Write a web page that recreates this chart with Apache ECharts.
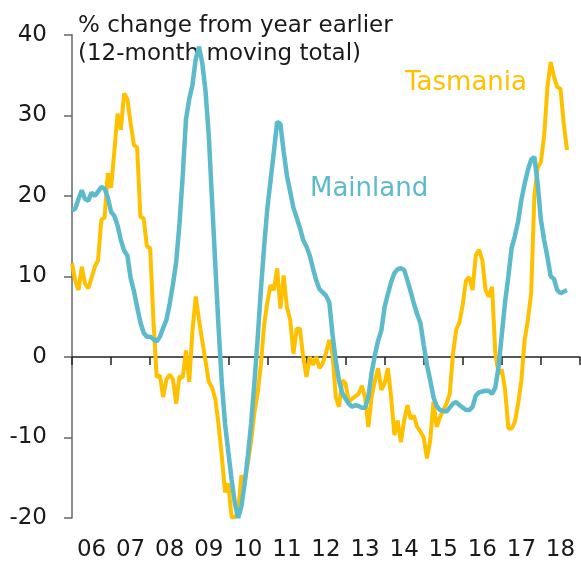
<!DOCTYPE html>
<html>
<head>
<meta charset="utf-8">
<script src="https://cdn.jsdelivr.net/npm/echarts@6/dist/echarts.min.js"></script>
<style>
html, body { margin: 0; padding: 0; background: #fff; }
#chart { width: 581px; height: 562px; }
</style>
</head>
<body>
<div id="chart"></div>
<script>
// year labels, one per 12 months starting Jan 2006
var years = ['06', '07', '08', '09', '10', '11', '12', '13', '14', '15', '16', '17', '18'];

// % change from year earlier, monthly from Jan 2006
var tasmania = [
    11.6, 9.5, 8.3, 11.2, 9.1, 8.5, 9.8, 11.2, 12.0, 17.0,
    17.3, 22.8, 21.0, 25.5, 30.2, 28.2, 32.7, 32.0, 29.0, 26.3,
    26.0, 17.4, 17.2, 13.7, 13.5, 4.6, -2.5, -2.3, -5.0, -2.8,
    -2.2, -2.8, -5.8, -2.4, -2.6, 0.8, -3.1, 3.3, 7.5, 4.6,
    2.0, -0.5, -3.1, -3.8, -5.2, -8.4, -12.3, -16.8, -15.7, -19.9,
    -19.9, -19.3, -14.7, -15.6, -13.2, -10.5, -7.0, -4.5, -1.0, 4.0,
    6.8, 8.9, 8.3, 11.0, 6.0, 10.1, 6.2, 4.6, 0.4, 3.5,
    3.5, 0.0, -2.5, 0.0, -1.0, 0.0, -1.4, -0.8, 0.5, 2.1,
    0.4, -5.0, -6.2, -2.9, -3.3, -5.6, -5.2, -4.9, -4.6, -3.6,
    -5.0, -8.7, -5.0, -3.0, -1.4, -4.1, -3.3, -1.4, -5.0, -9.7,
    -7.9, -10.6, -7.9, -6.0, -7.7, -7.3, -8.7, -9.3, -10.0, -12.6,
    -10.4, -5.6, -8.7, -7.5, -6.6, -5.8, -4.6, 0.4, 3.4, 4.3,
    6.5, 9.5, 9.9, 8.3, 12.6, 13.3, 12.0, 8.3, 7.5, 8.7,
    0.4, -2.1, -1.6, -4.1, -8.9, -8.9, -8.1, -5.8, -2.9, 2.1,
    4.6, 7.9, 20.0, 23.5, 24.2, 27.5, 33.5, 36.6, 34.8, 33.5,
    33.3, 29.0, 25.7
];

var mainland = [
    18.2, 18.4, 19.6, 20.7, 19.6, 19.4, 20.4, 20.0, 20.5, 21.1,
    20.9, 19.8, 18.0, 17.5, 16.3, 14.5, 13.2, 12.6, 9.8, 8.2,
    6.2, 4.3, 3.0, 2.5, 2.5, 2.2, 1.9, 2.5, 3.6, 4.6,
    6.6, 9.0, 11.8, 16.5, 22.5, 29.5, 32.0, 33.8, 37.0, 38.5,
    36.5, 33.0, 27.5, 19.5, 11.5, 3.7, -3.2, -8.3, -11.8, -15.2,
    -18.1, -20.0, -18.6, -15.8, -12.3, -8.3, -3.3, 2.2, 8.3, 13.7,
    18.5, 22.0, 25.5, 29.2, 28.9, 25.5, 22.5, 20.5, 18.5, 17.3,
    16.0, 14.5, 13.7, 12.6, 11.0, 9.5, 8.4, 8.0, 7.6, 6.8,
    2.8, -0.5, -3.0, -4.5, -5.2, -5.8, -6.2, -6.0, -6.1, -6.3,
    -6.3, -5.0, -2.0, 0.2, 2.0, 3.3, 6.2, 7.8, 9.3, 10.4,
    10.9, 11.0, 10.8, 9.5, 8.1, 6.6, 5.3, 4.2, 1.5, -1.0,
    -2.9, -5.0, -6.1, -6.6, -6.7, -6.8, -6.3, -5.8, -5.6, -6.0,
    -6.3, -6.6, -6.6, -6.2, -4.8, -4.4, -4.3, -4.2, -4.2, -4.6,
    -3.8, -1.2, 2.8, 6.8, 10.0, 13.5, 15.0, 16.8, 19.5, 21.5,
    23.2, 24.5, 24.8, 21.5, 17.0, 14.5, 12.4, 10.0, 9.7, 8.3,
    7.9, 8.1, 8.3
];

var font = 'DejaVu Sans';
var orange = '#FFC000';
var teal = '#5DBACB';

function toPairs(arr) {
    return arr.map(function (v, i) { return [i, v]; });
}

var myChart = echarts.init(document.getElementById('chart'));

var option = {
    animation: false,
    textStyle: { fontFamily: font },
    grid: [
        { left: 72, right: 1, top: 34.7, bottom: 44 },
        { left: 72, right: 1, top: 34.7, bottom: 44 } // only for year labels
    ],
    xAxis: [
        {
            gridIndex: 0,
            type: 'value',
            min: 0,
            max: years.length * 12,
            interval: 12,
            axisLine: { onZero: true, lineStyle: { color: '#222', width: 1.5 } },
            axisTick: { length: 8, lineStyle: { color: '#222', width: 1.5 } },
            axisLabel: { show: false },
            splitLine: { show: false }
        },
        {
            gridIndex: 1,
            type: 'category',
            data: years,
            boundaryGap: true,
            axisLine: { show: false },
            axisTick: { show: false },
            axisLabel: { fontSize: 23, color: '#1a1a1a', margin: 22, fontFamily: font }
        }
    ],
    yAxis: [
        {
            gridIndex: 0,
            type: 'value',
            min: -20,
            max: 40,
            interval: 10,
            axisLine: { show: true, lineStyle: { color: '#666', width: 1.5 } },
            axisTick: { show: true, length: 8, lineStyle: { color: '#666', width: 1.5 } },
            splitLine: { show: false },
            axisLabel: { fontSize: 23, color: '#1a1a1a', margin: 25, fontFamily: font }
        },
        { gridIndex: 1, type: 'value', show: false, min: 0, max: 1 }
    ],
    graphic: [
        { type: 'text', left: 78, top: 15, style: { text: '% change from year earlier', fontSize: 23, fontFamily: font, fill: '#1a1a1a' } },
        { type: 'text', left: 78, top: 43, style: { text: '(12-month moving total)', fontSize: 23, fontFamily: font, fill: '#1a1a1a' } },
        { type: 'text', left: 405, top: 70, style: { text: 'Tasmania', fontSize: 26, fontFamily: font, fill: orange } },
        { type: 'text', left: 310, top: 176, style: { text: 'Mainland', fontSize: 26, fontFamily: font, fill: teal } }
    ],
    series: [
        {
            name: 'Tasmania',
            type: 'line',
            xAxisIndex: 0,
            yAxisIndex: 0,
            data: toPairs(tasmania),
            showSymbol: false,
            clip: false,
            lineStyle: { color: orange, width: 4 },
            itemStyle: { color: orange }
        },
        {
            name: 'Mainland',
            type: 'line',
            xAxisIndex: 0,
            yAxisIndex: 0,
            data: toPairs(mainland),
            showSymbol: false,
            clip: false,
            lineStyle: { color: teal, width: 4.5 },
            itemStyle: { color: teal }
        }
    ]
};

myChart.setOption(option);
</script>
</body>
</html>
